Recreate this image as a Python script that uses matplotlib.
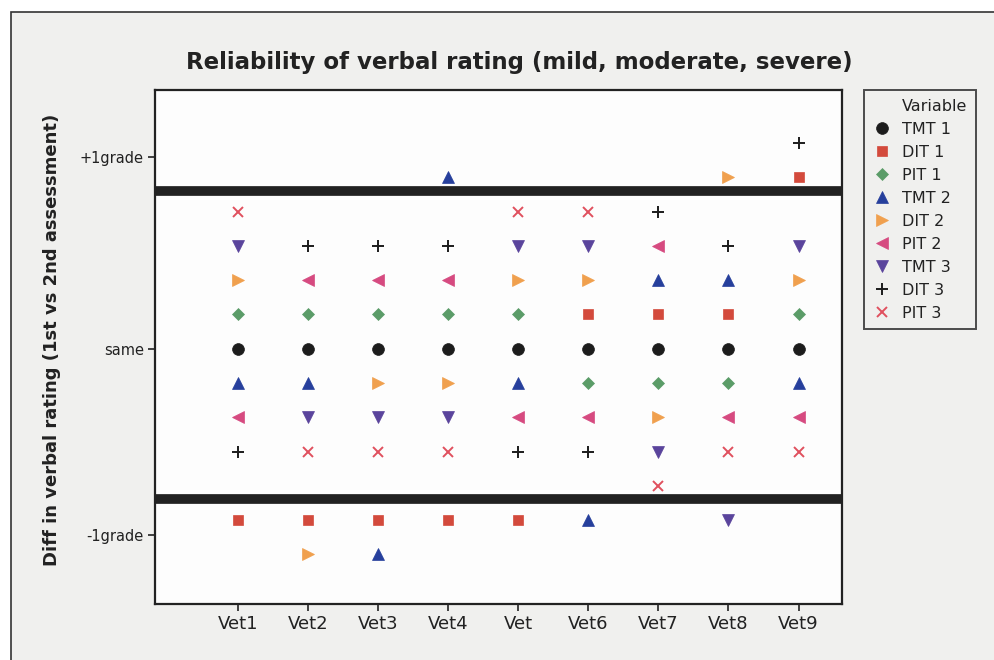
import numpy as np
import matplotlib
matplotlib.use("Agg")
import matplotlib.pyplot as plt
from matplotlib.lines import Line2D
from matplotlib.patches import Rectangle

# data: change in verbal grade per vet (-1, 0, +1)
vets = ["Vet1", "Vet2", "Vet3", "Vet4", "Vet", "Vet6", "Vet7", "Vet8", "Vet9"]
variables = ["TMT 1", "DIT 1", "PIT 1", "TMT 2", "DIT 2", "PIT 2", "TMT 3", "DIT 3", "PIT 3"]
tmt1 = [0, 0, 0, 0, 0, 0, 0, 0, 0]
dit1 = [-1, -1, -1, -1, -1, 0, 0, 0, 1]
pit1 = [0, 0, 0, 0, 0, 0, 0, 0, 0]
tmt2 = [0, 0, -1, 1, 0, -1, 0, 0, 0]
dit2 = [0, -1, 0, 0, 0, 0, 0, 1, 0]
pit2 = [0, 0, 0, 0, 0, 0, 0, 0, 0]
tmt3 = [0, 0, 0, 0, 0, 0, 0, -1, 0]
dit3 = [0, 0, 0, 0, 0, 0, 0, 0, 1]
pit3 = [0, 0, 0, 0, 0, 0, 0, 0, 0]
series = [tmt1, dit1, pit1, tmt2, dit2, pit2, tmt3, dit3, pit3]

markers = ["o", "s", "D", "^", ">", "<", "v", "+", "x"]
colors = ["#1c1c1c", "#d34a3c", "#5b9c68", "#263f9c", "#f0a04e",
          "#d64a80", "#5a449c", "#1c1c1c", "#e0505e"]
msizes = [8.5, 7.5, 6.5, 8.5, 8.5, 8.5, 8.5, 8.5, 7.5]

# stacking: 0 cluster alternates up/down around centre,
# +1 cluster stacks upward from row 5, -1 cluster downward from row -5
GAP = 5
ypos = np.zeros((len(series), len(vets)))
for j in range(len(vets)):
    n0 = 0
    npos = 0
    nneg = 0
    for i, s in enumerate(series):
        v = s[j]
        if v == 0:
            k = (n0 + 1) // 2
            ypos[i, j] = k if n0 % 2 == 1 else -k
            n0 += 1
        elif v > 0:
            ypos[i, j] = GAP + npos
            npos += 1
        else:
            ypos[i, j] = -GAP - nneg
            nneg += 1

fig = plt.figure(figsize=(9.95, 6.6), dpi=100)
fig.patch.set_facecolor("white")
fig.patches.append(Rectangle((11 / 995, -0.01), 1.0, 1 - 12 / 660 + 0.01,
                             transform=fig.transFigure, facecolor="#f0f0ee",
                             edgecolor="#333333", linewidth=1.2, zorder=-10))

ax = fig.add_axes([155 / 995, 56 / 660, 687 / 995, 514 / 660])
ax.set_facecolor("#fdfdfd")
x = np.arange(len(vets))
for i in range(len(series)):
    thin = markers[i] in ("+", "x")
    ax.plot(x, ypos[i], linestyle="none", marker=markers[i], color=colors[i],
            markersize=msizes[i], markeredgewidth=1.4 if thin else 0.5,
            markeredgecolor=colors[i], zorder=3)

# separators between grade groups
ax.axhline(4.6, color="#222222", linewidth=7, zorder=2)
ax.axhline(-4.4, color="#222222", linewidth=7, zorder=2)

ax.set_xlim(-1.18, 8.62)
ax.set_ylim(-7.45, 7.55)
ax.set_xticks(x)
ax.set_xticklabels(vets, fontsize=13, color="#222222")
ax.set_yticks([5.6, 0, -5.45])
ax.set_yticklabels(["+1grade", "same", "-1grade"], fontsize=10.5, color="#222222")
ax.tick_params(direction="out", length=5, width=1.2, color="#222222", pad=3)
for sp in ax.spines.values():
    sp.set_linewidth(1.6)
    sp.set_color("#222222")

fig.text(519 / 995, 1 - 62 / 660, "Reliability of verbal rating (mild, moderate, severe)",
         ha="center", va="center", fontsize=16.5, fontweight="bold", color="#222222")
fig.text(52 / 995, 1 - 340 / 660, "Diff in verbal rating (1st vs 2nd assessment)",
         ha="center", va="center", rotation=90, fontsize=13, fontweight="bold",
         color="#222222")

handles = [Line2D([], [], linestyle="none")]
labels = ["Variable"]
for i in range(len(series)):
    thin = markers[i] in ("+", "x")
    handles.append(Line2D([], [], linestyle="none", marker=markers[i], color=colors[i],
                          markersize=msizes[i],
                          markeredgewidth=1.4 if thin else 0.5))
    labels.append(variables[i])
leg = fig.legend(handles, labels, loc="upper left",
                 bbox_to_anchor=(864 / 995, 1 - 90 / 660), borderaxespad=0,
                 fontsize=11.5, frameon=True, fancybox=False, handlelength=1.1,
                 handletextpad=0.75, labelspacing=0.5, borderpad=0.55)
leg.get_frame().set_edgecolor("#222222")
leg.get_frame().set_linewidth(1.4)
leg.get_frame().set_facecolor("#f0f0ee")
for t in leg.get_texts():
    t.set_color("#222222")

fig.savefig("out.png", dpi=100, facecolor=fig.get_facecolor())
